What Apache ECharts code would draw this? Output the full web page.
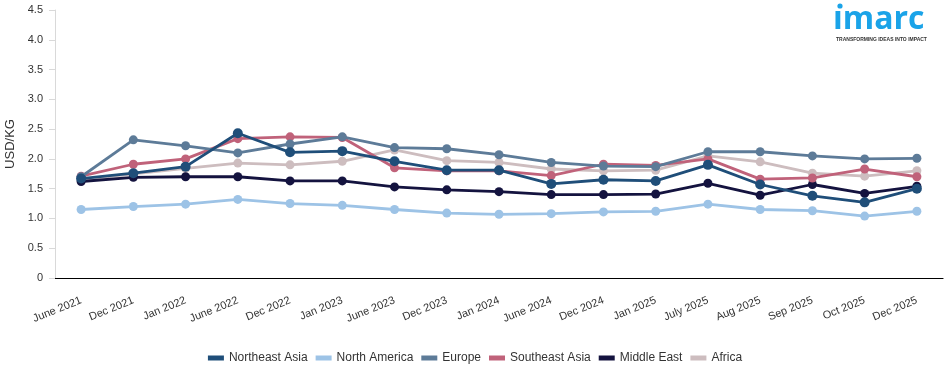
<!DOCTYPE html>
<html>
<head>
<meta charset="utf-8">
<script src="https://cdn.jsdelivr.net/npm/echarts@6/dist/echarts.min.js"></script>
<style>html,body{margin:0;padding:0;background:#fff}#c{width:950px;height:373px}</style>
</head>
<body>
<div id="c"></div>
<script>
const categories = ["June 2021","Dec 2021","Jan 2022","June 2022","Dec 2022","Jan 2023","June 2023","Dec 2023","Jan 2024","June 2024","Dec 2024","Jan 2025","July 2025","Aug 2025","Sep 2025","Oct 2025","Dec 2025"];
const northeastAsia = [1.67,1.76,1.87,2.43,2.11,2.13,1.96,1.81,1.81,1.58,1.65,1.63,1.90,1.57,1.38,1.27,1.50];
const northAmerica  = [1.15,1.20,1.24,1.32,1.25,1.22,1.15,1.09,1.07,1.08,1.11,1.12,1.24,1.15,1.13,1.04,1.12];
const europe        = [1.70,2.32,2.22,2.10,2.25,2.37,2.19,2.17,2.07,1.94,1.88,1.87,2.12,2.12,2.05,2.00,2.01];
const southeastAsia = [1.71,1.91,2.00,2.34,2.37,2.36,1.85,1.80,1.80,1.72,1.91,1.89,2.00,1.66,1.68,1.83,1.70];
const middleEast    = [1.62,1.69,1.70,1.70,1.63,1.63,1.53,1.48,1.45,1.40,1.40,1.41,1.59,1.39,1.57,1.42,1.54];
const africa        = [1.65,1.75,1.84,1.93,1.90,1.96,2.15,1.97,1.94,1.83,1.80,1.81,2.05,1.95,1.76,1.71,1.80];
const yTicks = [0,0.5,1,1.5,2,2.5,3,3.5,4,4.5];

const seriesDefs = [
  {name:"Northeast Asia", data:northeastAsia, color:"#1f4e79"},
  {name:"North America", data:northAmerica, color:"#9dc3e6"},
  {name:"Europe", data:europe, color:"#5d7b98"},
  {name:"Southeast Asia", data:southeastAsia, color:"#c0627a"},
  {name:"Middle East", data:middleEast, color:"#14133f"},
  {name:"Africa", data:africa, color:"#cdbdbf"}
];

const chart = echarts.init(document.getElementById('c'), null, {renderer:'canvas'});
const series = seriesDefs.map((s, i) => ({
  name: s.name,
  type: 'line',
  data: s.data,
  symbol: 'circle',
  symbolSize: i === 0 ? 10 : 9,
  z: 10 - i,
  lineStyle: {width: 2.8, color: s.color},
  itemStyle: {color: s.color},
  emphasis: {disabled: true},
  animation: false
}));

chart.setOption({
  animation: false,
  textStyle: {fontFamily: 'Liberation Sans, Arial, sans-serif'},
  grid: {left: 55, right: 7, top: 10, bottom: 95, containLabel: false, outerBoundsMode: 'none'},
  legend: {
    data: seriesDefs.map(s => s.name),
    bottom: 4,
    left: 'center',
    icon: 'rect',
    itemWidth: 16,
    itemHeight: 5,
    itemGap: 8,
    textStyle: {fontSize: 12, color: '#333'}
  },
  xAxis: {
    type: 'category',
    data: categories,
    boundaryGap: true,
    axisLine: {lineStyle: {color: '#000', width: 1.2}},
    axisTick: {alignWithLabel: true, length: 8, lineStyle: {color: '#000'}},
    axisLabel: {rotate: 22, fontSize: 11, color: '#333', margin: 22, interval: 0}
  },
  yAxis: {
    type: 'value',
    min: 0, max: 4.5, interval: 0.5,
    name: 'USD/KG',
    nameLocation: 'middle',
    nameGap: 32,
    nameTextStyle: {fontSize: 13, color: '#333'},
    axisLine: {show: true, lineStyle: {color: '#d9d9d9'}},
    axisTick: {show: true, length: 6, lineStyle: {color: '#d9d9d9'}},
    splitLine: {show: false},
    axisLabel: {fontSize: 11, color: '#333', margin: 12,
      formatter: v => { const t = yTicks.find(x => Math.abs(x - v) < 1e-9); return t === 0 ? '0' : (t !== undefined ? t.toFixed(1) : ''); }}
  },
  graphic: [
    {type:'circle', shape:{cx:840, cy:6, r:2.6}, style:{fill:'#1aa3e8'}},
    {type:'text', left: 833, top: 4, style:{text:'ımarc', fill:'#1aa3e8', font:'bold 32px "Open Sans", sans-serif'}},
    {type:'text', left: 836, top: 37, style:{text:'TRANSFORMING IDEAS INTO IMPACT', fill:'#333', font:'bold 5px "Liberation Sans", sans-serif'}}
  ],
  series: series
});
</script>
</body>
</html>
